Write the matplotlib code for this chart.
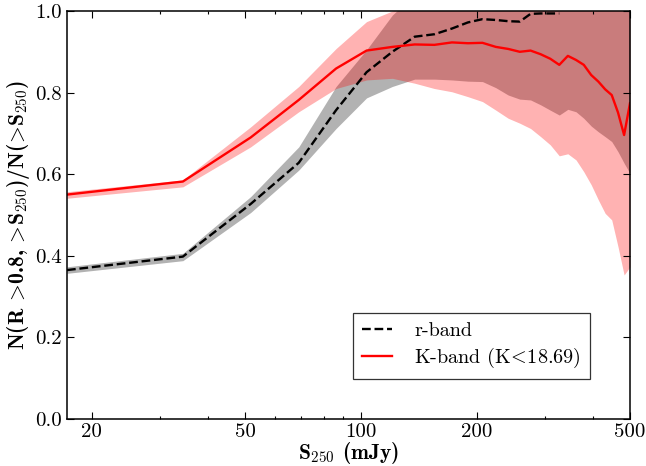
import numpy as np
import matplotlib
matplotlib.use("Agg")
import matplotlib.pyplot as plt
from matplotlib.ticker import FixedLocator, FixedFormatter, NullFormatter

# flux bins (mJy)
s250 = [17.24, 34.48, 51.72, 68.97, 86.21, 103.45, 120.69, 137.93, 155.17, 172.41,
        189.66, 206.90, 224.14, 241.38, 258.62, 275.86, 293.10, 310.34, 327.59, 344.83,
        362.07, 379.31, 396.55, 413.79, 431.03, 448.28, 465.52, 482.76, 500.0]

# r-band fraction and its band
r_frac = [0.365, 0.398, 0.527, 0.628, 0.757, 0.850, 0.900, 0.937, 0.943, 0.957,
          0.972, 0.980, 0.978, 0.975, 0.974, 0.993, 0.994, 0.994, 0.994, np.nan,
          np.nan, np.nan, np.nan, np.nan, np.nan, np.nan, np.nan, np.nan, np.nan]
r_low = [0.357, 0.388, 0.506, 0.610, 0.712, 0.787, 0.815, 0.833, 0.833, 0.831,
         0.828, 0.827, 0.812, 0.794, 0.784, 0.782, 0.770, 0.757, 0.745, 0.759,
         0.753, 0.737, 0.718, 0.704, 0.692, 0.680, 0.655, 0.627, 0.602]
r_high = [0.373, 0.406, 0.545, 0.667, 0.815, 0.905, 0.990, 1.04, 1.06, 1.08,
          1.10, 1.12, 1.13, 1.14, 1.15, 1.17, 1.18, 1.19, 1.20, 1.21,
          1.22, 1.23, 1.24, 1.25, 1.26, 1.27, 1.28, 1.29, 1.30]

# K-band fraction and its band
k_frac = [0.550, 0.582, 0.690, 0.782, 0.859, 0.903, 0.912, 0.918, 0.917, 0.923,
          0.921, 0.922, 0.912, 0.907, 0.900, 0.903, 0.894, 0.883, 0.868, 0.890,
          0.880, 0.868, 0.843, 0.827, 0.808, 0.794, 0.751, 0.696, 0.774]
k_low = [0.541, 0.569, 0.667, 0.753, 0.810, 0.831, 0.835, 0.823, 0.810, 0.802,
         0.790, 0.778, 0.757, 0.737, 0.725, 0.712, 0.692, 0.672, 0.645, 0.650,
         0.635, 0.606, 0.574, 0.537, 0.504, 0.488, 0.422, 0.353, 0.373]
k_high = [0.557, 0.586, 0.716, 0.815, 0.908, 0.974, 1.00, 1.02, 1.03, 1.04,
          1.05, 1.06, 1.07, 1.08, 1.08, 1.09, 1.10, 1.10, 1.09, 1.13,
          1.13, 1.14, 1.12, 1.12, 1.11, 1.10, 1.08, 1.04, 1.17]

xticks = [20, 50, 100, 200, 500]
xticklabels = ["20", "50", "100", "200", "500"]
yticks = [0.0, 0.2, 0.4, 0.6, 0.8, 1.0]

plt.rcParams["font.family"] = "serif"
plt.rcParams["font.serif"] = ["cmr10"]
plt.rcParams["mathtext.fontset"] = "cm"
plt.rcParams["axes.unicode_minus"] = False

fig = plt.figure(figsize=(6.46, 4.66), dpi=100)
ax = fig.add_axes([0.1037, 0.1009, 0.8715, 0.8755])

ax.fill_between(s250, r_low, r_high, color="k", alpha=0.3, linewidth=0)
ax.fill_between(s250, k_low, k_high, color="r", alpha=0.3, linewidth=0)
ax.plot(s250, r_frac, "k--", lw=1.7, label="r-band")
ax.plot(s250, k_frac, "r-", lw=1.7, label=r"K-band (K$\!<\!$18.69)")

ax.set_xscale("log")
ax.set_xlim(s250[0], s250[-1])
ax.set_ylim(0, 1)

ax.xaxis.set_major_locator(FixedLocator(xticks))
ax.xaxis.set_major_formatter(FixedFormatter(xticklabels))
ax.xaxis.set_minor_locator(FixedLocator([30, 40, 60, 70, 80, 90, 300, 400]))
ax.xaxis.set_minor_formatter(NullFormatter())
ax.set_yticks(yticks)
ax.set_yticklabels(["%.1f" % v for v in yticks])

ax.tick_params(which="both", direction="in", top=True, right=True, labelsize=15, pad=4)
ax.tick_params(axis="x", which="both", pad=3)
ax.tick_params(which="major", length=5, width=0.8)
ax.tick_params(which="minor", length=2.5, width=0.8)
for sp in ax.spines.values():
    sp.set_linewidth(1.1)

ax.set_xlabel(r"S$_{250}$ (mJy)", fontsize=15.5, family="cmb10")
ax.set_ylabel(r"N(R $\!>\!$0.8, $\!>\!$S$_{250}$)/N($\!>\!$S$_{250}$)", fontsize=15.5, family="cmb10")
ax.xaxis.set_label_coords(0.5, -0.052)
ax.yaxis.set_label_coords(-0.062, 0.5)

leg = ax.legend(loc="lower right", bbox_to_anchor=(0.929, 0.098), borderaxespad=0,
                fontsize=14.5, fancybox=False, handlelength=1.5, handletextpad=1.1,
                borderpad=0.45, labelspacing=0.3)
leg.get_frame().set_edgecolor("black")
leg.get_frame().set_linewidth(0.9)

fig.savefig("out.png", dpi=100)
